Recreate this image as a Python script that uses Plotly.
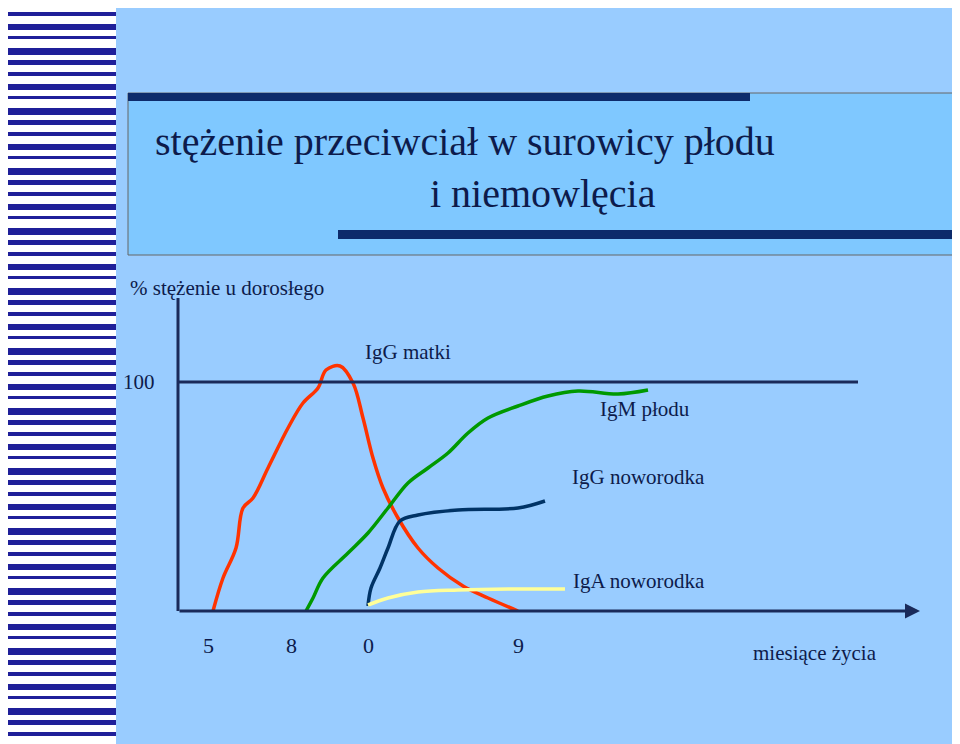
import plotly.graph_objects as go

# data (x in month-position units on a schematic axis, y in % of adult concentration)
red_x = [205,215,228,235,245,260,280,295,310,318,332,345,355,365,375,390,410,430,455,480,510]
red_py = [603,570,540,500,490,460,420,395,380,362,358,375,410,450,480,510,540,560,578,590,603]
green_x = [298,305,315,340,360,380,400,420,440,460,480,510,540,570,610,640]
green_py = [603,590,570,545,525,500,475,460,445,425,410,398,388,383,386,382]
navy_x = [360,363,372,380,392,410,450,510,537]
navy_py = [598,580,560,540,513,507,502,500,493]
yel_x = [360,380,410,450,500,557]
yel_py = [597,590,584,582,581,581]
tick_pos = [200,283,360,510]
tick_labels = ["5","8","0","9"]

L, R, T, B = 170, 910, 290, 603
def yv(py): return (B-py)/(B-T)*136.7
def px(x): return (x-L)/(R-L)
def py_(y): return (B-y)/(B-T)

fig = go.Figure()
def add(xs, pys, color):
    fig.add_trace(go.Scatter(x=xs, y=[yv(p) for p in pys], mode="lines",
                             line=dict(color=color, width=3.5, shape="spline"), showlegend=False))
add(red_x, red_py, "#FF3300")
add(green_x, green_py, "#009900")
add(navy_x, navy_py, "#003366")
add(yel_x, yel_py, "#FFFF99")
fig.add_trace(go.Scatter(x=[170,850], y=[100,100], mode="lines",
                         line=dict(color="#1A2A5A", width=3), showlegend=False))

shapes = []
def rect(x0,y0,x1,y1,color,line=None):
    shapes.append(dict(type="rect", xref="paper", yref="paper", x0=px(x0), x1=px(x1),
                       y0=py_(y1), y1=py_(y0), fillcolor=color, layer="below",
                       line=dict(width=1 if line else 0, color=line or color)))
rect(0,0,108,744,"white")
y = 4
i = 0
while y < 744:
    h = [4,6,3,7,5][i % 5]
    rect(0,y,108,y+h,"#1F1F99")
    y += h + [8,6,9,5,7][i % 5]
    i += 1
rect(120,85,955,247,"#7FC8FF","#666666")
rect(120,85,742,93,"#0D2B6B")
rect(330,222,955,231,"#0D2B6B")
shapes.append(dict(type="line", xref="paper", yref="paper", x0=0, x1=0, y0=0, y1=1,
                   line=dict(color="#1A2A5A", width=3)))
fig.update_layout(shapes=shapes)
fig.add_annotation(x=912, y=0, ax=170, ay=0, xref="x", yref="y", axref="x", ayref="y",
                   showarrow=True, arrowhead=2, arrowsize=1, arrowwidth=3, arrowcolor="#1A2A5A", text="")

F = "Liberation Serif, Times New Roman, serif"
def txt(x, y, s, size, color="#0D1B4B", anchor="left"):
    fig.add_annotation(x=px(x), y=py_(y), xref="paper", yref="paper", text=s, showarrow=False,
                       font=dict(family=F, size=size, color=color), xanchor=anchor, yanchor="middle")
txt(145,133,"stężenie przeciwciał w surowicy płodu",40)
txt(420,185,"i niemowlęcia",40)
txt(120,280,"% stężenie u dorosłego",21)
txt(113,374,"100",21)
txt(355,344,"IgG matki",21)
txt(590,401,"IgM płodu",21)
txt(562,469,"IgG noworodka",21)
txt(563,573,"IgA noworodka",21)
txt(743,645,"miesiące życia",21)
for p, l in zip(tick_pos, tick_labels):
    txt(p,637,l,22,anchor="center")

fig.update_layout(width=960, height=744, margin=dict(l=L, r=960-R, t=T, b=744-B),
                  paper_bgcolor="#99CCFF", plot_bgcolor="rgba(0,0,0,0)",
                  xaxis=dict(range=[L,R], visible=False),
                  yaxis=dict(range=[0,136.7], visible=False))
fig.write_html("out.html")
